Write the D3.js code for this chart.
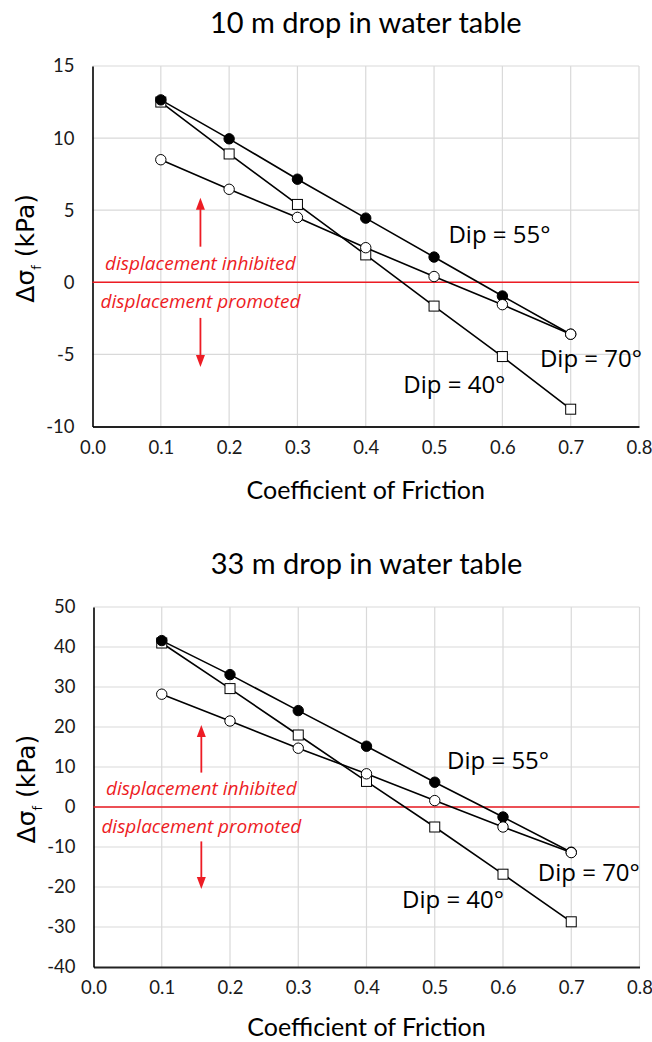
<!DOCTYPE html>
<html>
<head>
<meta charset="utf-8">
<script src="https://cdn.jsdelivr.net/npm/d3@7"></script>
<style>
  body { margin: 0; background: #fff; }
  svg { display: block; }
</style>
</head>
<body>
<main></main>
<script>
// data
const friction = [0.1, 0.2, 0.3, 0.4, 0.5, 0.6, 0.7];
const xTicks = [0, 0.1, 0.2, 0.3, 0.4, 0.5, 0.6, 0.7, 0.8];

// 10 m drop
const dip40_10 = [12.5, 8.9, 5.4, 1.9, -1.65, -5.15, -8.8];
const dip55_10 = [12.65, 9.95, 7.15, 4.45, 1.75, -0.95, -3.6];
const dip70_10 = [8.5, 6.45, 4.5, 2.4, 0.4, -1.55, -3.6];
const yTicks_10 = [-10, -5, 0, 5, 10, 15];

// 33 m drop
const dip40_33 = [41.0, 29.6, 18.0, 6.4, -5.0, -16.8, -28.7];
const dip55_33 = [41.6, 33.1, 24.1, 15.2, 6.2, -2.5, -11.3];
const dip70_33 = [28.2, 21.5, 14.7, 8.3, 1.6, -5.0, -11.4];
const yTicks_33 = [-40, -30, -20, -10, 0, 10, 20, 30, 40, 50];

const titles = ["10 m drop in water table", "33 m drop in water table"];
const xTitle = "Coefficient of Friction";
const inhibitedText = "displacement inhibited";
const promotedText = "displacement promoted";
const dipLabels = ["Dip = 55°", "Dip = 70°", "Dip = 40°"];

const width = 652;
const height = 1042;
const red = "#ed1c24";

const svg = d3.select("main")
	.append("svg")
	.attr("width", width)
	.attr("height", height);

function drawChart(opt) {
	const x = d3.scaleLinear().domain([0, 0.8]).range([opt.left, opt.right]);
	const y = d3.scaleLinear().domain(d3.extent(opt.yTicks)).range([opt.bottom, opt.top]);

	const g = svg.append("g");

	// title
	g.append("text")
		.attr("x", (opt.left + opt.right) / 2)
		.attr("y", opt.top - 33)
		.attr("text-anchor", "middle")
		.style("font-family", "Lato")
		.style("font-size", "29px")
		.attr("fill", "#000")
		.text(opt.title);

	// gridlines
	g.selectAll(".vgrid")
		.data(xTicks.slice(1))
		.join("line")
		.attr("x1", d => x(d)).attr("x2", d => x(d))
		.attr("y1", opt.top).attr("y2", opt.bottom)
		.attr("stroke", "#d9d9d9")
		.attr("stroke-width", 1.2);

	g.selectAll(".hgrid")
		.data(opt.yTicks.filter(d => d !== opt.yTicks[0]))
		.join("line")
		.attr("x1", opt.left).attr("x2", opt.right)
		.attr("y1", d => y(d)).attr("y2", d => y(d))
		.attr("stroke", "#d9d9d9")
		.attr("stroke-width", 1.2);

	// axes
	const xAxis = g.append("g")
		.attr("transform", `translate(0,${opt.bottom})`)
		.call(d3.axisBottom(x).tickValues(xTicks).tickFormat(d3.format(".1f")).tickSize(0).tickPadding(14));
	xAxis.select(".domain").attr("stroke", "#222").attr("stroke-width", 2);
	xAxis.selectAll("text")
		.style("font-family", "Lato")
		.style("font-size", "18.5px")
		.attr("fill", "#1a1a1a");

	const yAxis = g.append("g")
		.attr("transform", `translate(${opt.left},0)`)
		.call(d3.axisLeft(y).tickValues(opt.yTicks).tickFormat(d => String(d)).tickSize(0).tickPadding(18));
	yAxis.select(".domain").attr("stroke", "#000").attr("stroke-width", 1.6);
	yAxis.selectAll("text")
		.style("font-family", "Lato")
		.style("font-size", "18.5px")
		.attr("fill", "#1a1a1a");

	// x title
	g.append("text")
		.attr("x", (opt.left + opt.right) / 2)
		.attr("y", opt.bottom + opt.xTitleGap)
		.attr("text-anchor", "middle")
		.style("font-family", "Lato")
		.style("font-size", "25px")
		.attr("fill", "#000")
		.text(xTitle);

	// y title
	const yt = g.append("text")
		.attr("transform", `translate(${opt.left - 59},${(opt.top + opt.bottom) / 2 + 2}) rotate(-90)`)
		.attr("text-anchor", "middle")
		.style("font-family", "DejaVu Sans")
		.style("font-size", "25px")
		.attr("fill", "#000");
	yt.append("tspan").text("Δσ");
	yt.append("tspan").attr("dy", 7).style("font-size", "13px").text("f");
	yt.append("tspan").attr("dy", -7).text(" (kPa)");

	// zero line
	g.append("line")
		.attr("x1", opt.left).attr("x2", opt.right)
		.attr("y1", y(0)).attr("y2", y(0))
		.attr("stroke", red)
		.attr("stroke-width", 1.6);

	// red annotation
	const ax = x(0.158);
	const redText = g.append("g")
		.style("font-family", "Open Sans")
		.style("font-style", "italic")
		.style("font-size", "19px")
		.attr("fill", red)
		.attr("text-anchor", "middle");
	redText.append("text").attr("x", ax).attr("y", y(0) - 12).text(inhibitedText);
	redText.append("text").attr("x", ax).attr("y", y(0) + 26).text(promotedText);

	const arrows = [
		{ from: opt.arrowNear, to: opt.arrowFar },
		{ from: -opt.arrowNear, to: -opt.arrowFar }
	];
	arrows.forEach(a => {
		const y1 = y(a.from), y2 = y(a.to);
		const dir = y2 < y1 ? 1 : -1;
		g.append("line")
			.attr("x1", ax).attr("x2", ax)
			.attr("y1", y1).attr("y2", y2 + dir * 10)
			.attr("stroke", red).attr("stroke-width", 1.8);
		g.append("path")
			.attr("d", `M${ax},${y2} L${ax - 4.5},${y2 + dir * 12} L${ax + 4.5},${y2 + dir * 12} Z`)
			.attr("fill", red);
	});

	// series
	const line = d3.line()
		.x((d, i) => x(friction[i]))
		.y(d => y(d));

	const series = [
		{ values: opt.dip40, shape: "square", fill: "#fff" },
		{ values: opt.dip55, shape: "circle", fill: "#000" },
		{ values: opt.dip70, shape: "circle", fill: "#fff" }
	];

	series.forEach(s => {
		g.append("path")
			.datum(s.values)
			.attr("d", line)
			.attr("fill", "none")
			.attr("stroke", "#000")
			.attr("stroke-width", 1.6);
	});

	series.forEach(s => {
		if (s.shape === "circle") {
			g.selectAll(null)
				.data(s.values)
				.join("circle")
				.attr("cx", (d, i) => x(friction[i]))
				.attr("cy", d => y(d))
				.attr("r", 5.2)
				.attr("fill", s.fill)
				.attr("stroke", "#000")
				.attr("stroke-width", 1);
		} else {
			g.selectAll(null)
				.data(s.values)
				.join("rect")
				.attr("x", (d, i) => x(friction[i]) - 5)
				.attr("y", d => y(d) - 5)
				.attr("width", 10)
				.attr("height", 10)
				.attr("fill", s.fill)
				.attr("stroke", "#000")
				.attr("stroke-width", 1);
		}
	});

	// dip labels
	const lab = g.append("g")
		.style("font-family", "Open Sans")
		.style("font-size", "24px")
		.attr("fill", "#000");
	opt.labelPos.forEach((p, i) => {
		lab.append("text")
			.attr("x", x(p[0]))
			.attr("y", y(p[1]))
			.text(dipLabels[i]);
	});
}

drawChart({
	title: titles[0],
	left: 92.5, right: 639, top: 66, bottom: 426.5,
	xTitleGap: 72,
	yTicks: yTicks_10,
	dip40: dip40_10, dip55: dip55_10, dip70: dip70_10,
	arrowNear: 2.47, arrowFar: 5.87,
	labelPos: [[0.521, 2.72], [0.655, -5.9], [0.455, -7.65]]
});

drawChart({
	title: titles[1],
	left: 93.5, right: 639.5, top: 607, bottom: 967,
	xTitleGap: 69,
	yTicks: yTicks_33,
	dip40: dip40_33, dip55: dip55_33, dip70: dip70_33,
	arrowNear: 8.6, arrowFar: 20.5,
	labelPos: [[0.518, 9.6], [0.651, -18.6], [0.452, -25.2]]
});
</script>
</body>
</html>
